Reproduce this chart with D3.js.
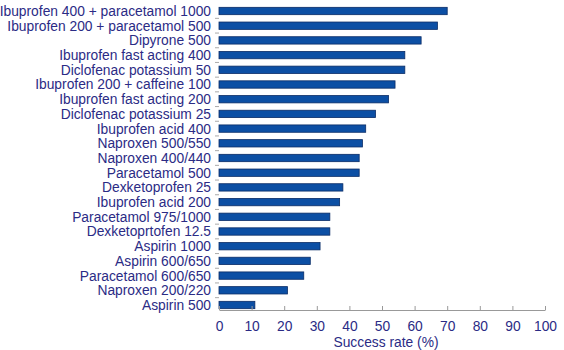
<!DOCTYPE html>
<html><head><meta charset="utf-8">
<script src="https://cdn.jsdelivr.net/npm/d3@7"></script>
<style>body{margin:0;background:#fff}svg{display:block}text{font-family:"Liberation Sans",Arial,sans-serif}</style>
</head><body>
<svg id="c" width="564" height="350"></svg>
<script>
const categories = ["Ibuprofen 400 + paracetamol 1000","Ibuprofen 200 + paracetamol 500","Dipyrone 500","Ibuprofen fast acting 400","Diclofenac potassium 50","Ibuprofen 200 + caffeine 100","Ibuprofen fast acting 200","Diclofenac potassium 25","Ibuprofen acid 400","Naproxen 500/550","Naproxen 400/440","Paracetamol 500","Dexketoprofen 25","Ibuprofen acid 200","Paracetamol 975/1000","Dexketoprtofen 12.5","Aspirin 1000","Aspirin 600/650","Paracetamol 600/650","Naproxen 200/220","Aspirin 500"];
const values = [70,67,62,57,57,54,52,48,45,44,43,43,38,37,34,34,31,28,26,21,11];
const xTicks = [0,10,20,30,40,50,60,70,80,90,100];
const xTitle = "Success rate (%)";

const svg = d3.select("#c");
const x = d3.scaleLinear().domain([0,100]).range([219,545]);
const y = d3.scaleBand().domain(categories).range([3.65, 312.35]).paddingInner(0.5).paddingOuter(0.25);
const axisY = 310;
const textCol = "#2b2b85";
const fs = 13.8;

// y ticks (at boundaries between bars)
svg.append("g").selectAll("line").data(categories.slice(1)).join("line")
  .attr("x1",215).attr("x2",219)
  .attr("y1",d=>y(d)-y.step()*y.paddingInner()/2).attr("y2",d=>y(d)-y.step()*y.paddingInner()/2)
  .attr("stroke","#aaa").attr("stroke-width",1);

svg.append("g").selectAll("rect").data(values).join("rect")
  .attr("x",x(0)).attr("y",(d,i)=>y(categories[i]))
  .attr("width",d=>x(d)-x(0)).attr("height",y.bandwidth())
  .attr("fill","#0c4fa4").attr("stroke","#0a2c66").attr("stroke-width",0.8);

svg.append("g").selectAll("text").data(categories).join("text")
  .attr("x",211).attr("y",d=>y(d)+y.bandwidth()/2).attr("dy","0.36em")
  .attr("text-anchor","end").attr("font-size",fs).attr("fill",textCol).text(d=>d);

const ax = svg.append("g").attr("transform",`translate(0,${axisY})`)
  .call(d3.axisBottom(x).tickValues(xTicks).tickSizeInner(-4).tickSizeOuter(0).tickPadding(11));
ax.select(".domain").attr("stroke","#999");
ax.selectAll(".tick line").attr("stroke","#999");
ax.selectAll(".tick text").attr("font-size",fs).attr("fill",textCol).attr("font-family","Liberation Sans, Arial, sans-serif");

svg.append("text").attr("x",386).attr("y",347).attr("text-anchor","middle")
  .attr("font-size",fs).attr("fill",textCol).text(xTitle);
</script>
</body></html>
